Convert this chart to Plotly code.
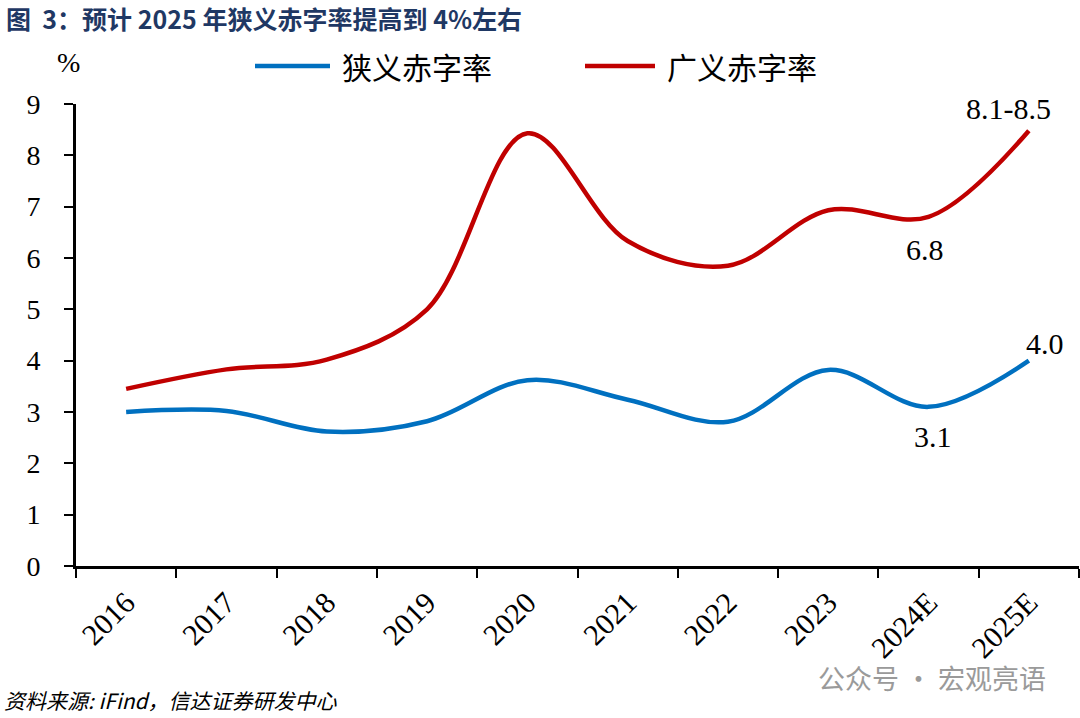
import plotly.graph_objects as go

# data (%)
years = ["2016", "2017", "2018", "2019", "2020", "2021", "2022", "2023", "2024E", "2025E"]
narrow_deficit = [3.0, 3.02, 2.62, 2.82, 3.62, 3.24, 2.81, 3.82, 3.1, 4.0]
broad_deficit = [3.45, 3.83, 4.02, 5.0, 8.43, 6.33, 5.85, 6.93, 6.8, 8.48]
y_ticks = list(range(0, 10))
series_names = ["狭义赤字率", "广义赤字率"]

# callout labels: (series index, category, text, xshift, yshift)
callouts = [
    (1, "2025E", "8.1-8.5", -20, 22),
    (1, "2024E", "6.8", -4, -33),
    (0, "2025E", "4.0", 16, 17),
    (0, "2024E", "3.1", 4, -30),
]

BLUE = "#0070C0"
RED = "#C00000"
SERIF = "Liberation Serif"
CJK = "Noto Sans CJK SC"

W, H = 1080, 718
L, R, T, B = 76, 1, 104, 152


def paper(px, py):
    """page pixel -> paper coords of the plot area"""
    return (px - L) / (W - L - R), 1 - (py - T) / (H - T - B)


fig = go.Figure()
all_series = [narrow_deficit, broad_deficit]
for name, vals, color in zip(series_names, all_series, [BLUE, RED]):
    fig.add_trace(go.Scatter(x=years, y=vals, mode="lines", name=name, showlegend=False,
                             line=dict(color=color, width=4.5, shape="spline", smoothing=1)))

for idx, cat, text, dx, dy in callouts:
    fig.add_annotation(x=cat, y=all_series[idx][years.index(cat)], text=text,
                       showarrow=False, xshift=dx, yshift=dy,
                       font=dict(family=SERIF, size=30, color="#000"))

# hand-drawn legend (long line samples like the original)
for (x0, x1, tx), name, color in zip([(255, 330, 340), (585, 655, 665)], series_names, [BLUE, RED]):
    a, yy = paper(x0, 66)
    b, _ = paper(x1, 66)
    fig.add_shape(type="line", xref="paper", yref="paper", x0=a, x1=b, y0=yy, y1=yy,
                  line=dict(color=color, width=4.5))
    tx_p, _ = paper(tx, 66)
    fig.add_annotation(xref="paper", yref="paper", x=tx_p, y=yy, text=name, showarrow=False,
                       xanchor="left", yanchor="middle",
                       font=dict(family=CJK, size=30, color="#000"))


def page_text(px, py, text, anchor, font):
    x, y = paper(px, py)
    fig.add_annotation(xref="paper", yref="paper", x=x, y=y, text=text, showarrow=False,
                       xanchor=anchor, yanchor="middle", font=font)


page_text(4, 18, "<b>图  3：预计 2025 年狭义赤字率提高到 4%左右</b>", "left",
          dict(family=CJK, size=25, color="#1F3864"))
page_text(68, 62, "%", "center", dict(family=SERIF, size=28, color="#000"))
page_text(2, 700, "<i>资料来源: iFind，信达证券研发中心</i>", "left",
          dict(family=CJK, size=21, color="#000"))
page_text(1048, 677, "公众号 · 宏观亮语", "right", dict(family=CJK, size=27, color="#9a9a9a"))

fig.update_layout(
    width=W, height=H,
    margin=dict(l=L, r=R, t=T, b=B, autoexpand=False),
    paper_bgcolor="white", plot_bgcolor="white",
    font=dict(family=SERIF, size=28, color="#000"),
    xaxis=dict(type="category", range=[-0.5, 9.5], tickson="boundaries",
               showline=True, linecolor="#000", linewidth=3,
               ticks="outside", ticklen=9, tickwidth=2, tickcolor="#000",
               tickangle=-45, tickfont=dict(family=SERIF, size=30), ticklabelstandoff=4,
               showgrid=False, zeroline=False),
    yaxis=dict(range=[0, 9], tickvals=y_ticks, showline=True, linecolor="#000", linewidth=3,
               ticks="outside", ticklen=9, tickwidth=2, tickcolor="#000",
               tickfont=dict(family=SERIF, size=28), ticklabelstandoff=18,
               showgrid=False, zeroline=False),
)

fig.write_html("out.html", config={"displayModeBar": False},
               post_script="document.body.style.margin='0';")
